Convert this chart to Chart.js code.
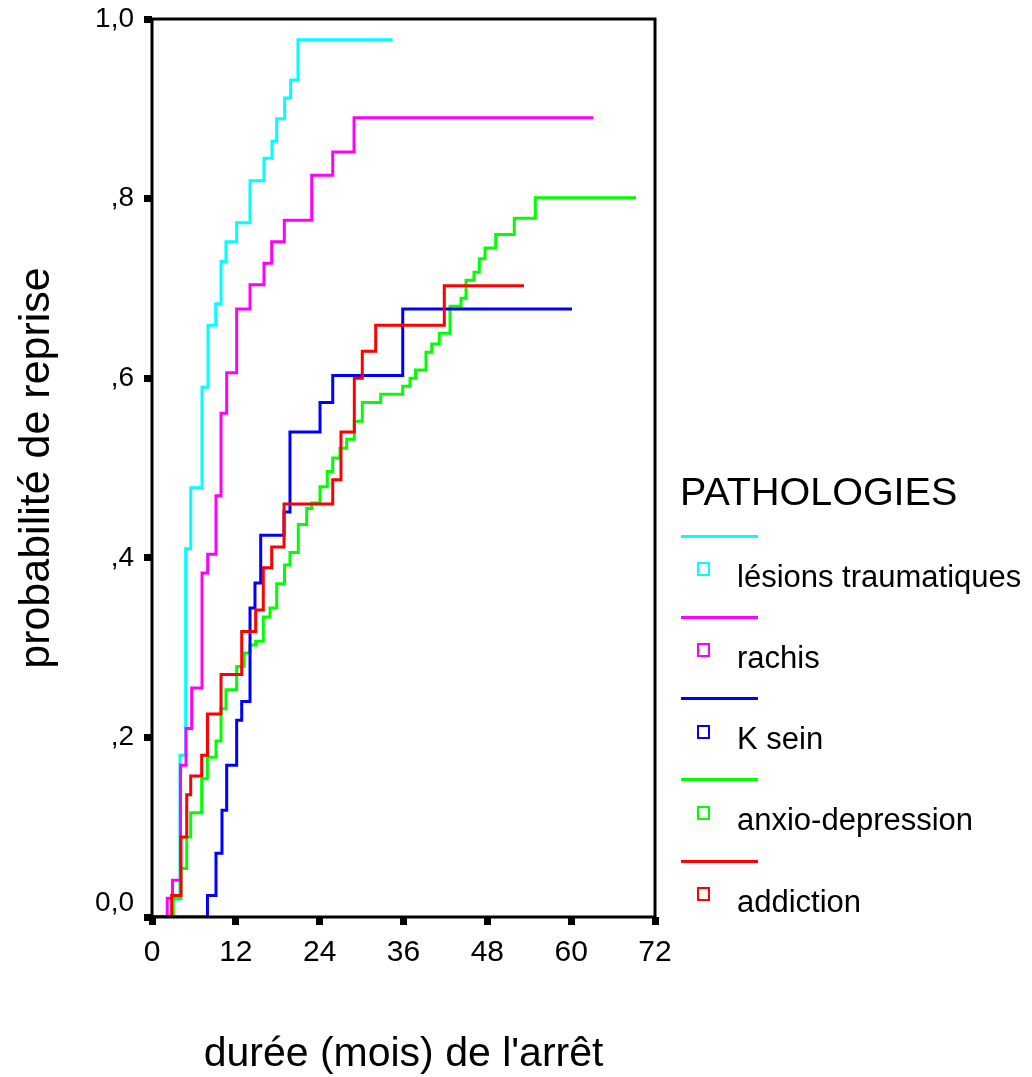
<!DOCTYPE html>
<html>
<head>
<meta charset="utf-8">
<script src="https://cdn.jsdelivr.net/npm/chart.js@4.4.0/dist/chart.umd.min.js"></script>
<style>
  html, body { margin: 0; padding: 0; background: #fff; }
  #wrap { position: relative; width: 1032px; height: 1077px; font-family: "Liberation Sans", Arial, sans-serif; }
  #chart { position: absolute; left: 0; top: 0; }
  .leg-title { position: absolute; left: 680px; top: 472px; font-size: 39.5px; line-height: 39.5px; color: #000; }
  .leg-line { position: absolute; left: 681px; width: 77px; height: 3px; }
  .leg-box { position: absolute; left: 697px; width: 9px; height: 10px; border: 2px solid; background: #fff; }
  .leg-text { position: absolute; left: 737px; font-size: 31px; line-height: 31px; color: #000; white-space: nowrap; }
</style>
</head>
<body>
<div id="wrap">
  <canvas id="chart" width="1032" height="1077"></canvas>
</div>
<script>
// === DONNÉES ===
const groupes = ['lésions traumatiques', 'rachis', 'K sein', 'anxio-depression', 'addiction'];
const couleurs = ['#00ffff', '#ff00ff', '#0000ff', '#00ff00', '#ff0000'];

// durée en mois / probabilité cumulée de reprise
const lesionsT = [0, 2.9, 4.0, 4.82, 5.54, 7.16, 8.02, 9.12, 9.88, 10.59, 12.12, 14.03, 16.03, 17.18, 17.85, 18.99, 19.85, 20.9, 34.45];
const lesionsP = [0, 0.02, 0.18, 0.41, 0.478, 0.59, 0.659, 0.683, 0.73, 0.752, 0.773, 0.82, 0.845, 0.864, 0.889, 0.912, 0.932, 0.977, 0.977];

const rachisT = [0, 2.18, 2.93, 4.08, 4.87, 5.68, 7.16, 7.97, 9.16, 9.88, 10.69, 12.12, 14.03, 16.03, 17.13, 18.94, 22.86, 25.87, 28.92, 63.13];
const rachisP = [0, 0.021, 0.041, 0.169, 0.21, 0.255, 0.383, 0.404, 0.469, 0.561, 0.606, 0.677, 0.704, 0.728, 0.752, 0.776, 0.826, 0.852, 0.89, 0.89];

const seinT = [0, 7.94, 9.16, 10.02, 10.69, 12.12, 12.84, 14.03, 14.74, 15.56, 18.9, 19.75, 24.05, 25.87, 35.89, 60.12];
const seinP = [0, 0.024, 0.071, 0.119, 0.169, 0.219, 0.24, 0.344, 0.372, 0.425, 0.451, 0.54, 0.573, 0.603, 0.677, 0.677];

const anxioT = [0, 3.05, 4.15, 4.97, 5.54, 7.11, 7.92, 9.16, 9.88, 10.59, 12.12, 13.17, 14.03, 14.84, 15.93, 16.89, 17.85, 18.97, 19.75, 20.94,
  22.14, 22.86, 24.05, 25.09, 25.87, 26.91, 27.87, 28.96, 30.1, 32.74, 35.89, 36.93, 37.72, 39.22, 40.04, 41.12, 42.66, 44.23, 44.95, 46.09,
  46.85, 47.67, 49.2, 51.86, 54.87, 69.28];
const anxioP = [0, 0.021, 0.054, 0.089, 0.116, 0.154, 0.178, 0.196, 0.232, 0.253, 0.279, 0.294, 0.303, 0.307, 0.334, 0.344, 0.371, 0.392, 0.406, 0.437,
  0.455, 0.461, 0.479, 0.496, 0.511, 0.522, 0.532, 0.552, 0.573, 0.582, 0.591, 0.6, 0.609, 0.629, 0.638, 0.65, 0.68, 0.689, 0.709, 0.718,
  0.733, 0.745, 0.76, 0.778, 0.801, 0.801];

const addictionT = [0, 2.82, 4.15, 4.97, 5.54, 7.11, 7.94, 9.88, 12.84, 14.84, 15.93, 17.13, 18.9, 25.87, 27.05, 28.96, 30.1, 32.02, 41.84, 53.25];
const addictionP = [0, 0.024, 0.089, 0.136, 0.157, 0.18, 0.226, 0.27, 0.318, 0.342, 0.389, 0.412, 0.46, 0.487, 0.54, 0.6, 0.63, 0.659, 0.703, 0.703];

const xTicks = [0, 12, 24, 36, 48, 60, 72];
const yTicks = [0, 0.2, 0.4, 0.6, 0.8, 1.0];
const yLabels = ['0,0', ',2', ',4', ',6', ',8', '1,0'];

const series = [
  [lesionsT, lesionsP],
  [rachisT, rachisP],
  [seinT, seinP],
  [anxioT, anxioP],
  [addictionT, addictionP]
];
// ordre de dessin : rouge au-dessus, puis bleu, vert, magenta, cyan
const ordres = [4, 3, 1, 2, 0];

const POLICE = '"Liberation Sans", Arial, sans-serif';

// === CADRE ===
const cadre = {
  id: 'cadre',
  afterDraw(chart) {
    const { ctx, chartArea: a } = chart;
    ctx.save();
    ctx.strokeStyle = '#000';
    ctx.lineWidth = 3;
    ctx.strokeRect(a.left, a.top, a.right - a.left, a.bottom - a.top);
    ctx.restore();
  }
};

const ctx = document.getElementById('chart').getContext('2d');
new Chart(ctx, {
  type: 'line',
  data: {
    datasets: series.map(([t, p], i) => ({
      label: groupes[i],
      data: t.map((v, j) => ({ x: v, y: p[j] })),
      borderColor: couleurs[i],
      borderWidth: 3,
      stepped: 'before',
      pointRadius: 0,
      fill: false,
      order: ordres[i]
    }))
  },
  options: {
    responsive: false,
    animation: false,
    devicePixelRatio: 1,
    layout: { padding: { top: 19, right: 377, left: 0, bottom: 0 } },
    plugins: { legend: { display: false }, tooltip: { enabled: false } },
    scales: {
      x: {
        type: 'linear',
        min: 0, max: 72,
        afterFit: s => { s.height = 160; s.paddingLeft = 0; s.paddingRight = 0; },
        afterBuildTicks: s => { s.ticks = xTicks.map(v => ({ value: v })); },
        border: { display: false },
        grid: { drawOnChartArea: false, drawTicks: true, tickLength: 8, tickWidth: 7, tickColor: '#000' },
        ticks: { color: '#000', padding: 10, maxRotation: 0, font: { family: POLICE, size: 30 } },
        title: {
          display: true, text: "durée (mois) de l'arrêt", color: '#000',
          padding: 0, font: { family: POLICE, size: 41, lineHeight: 1.1 }
        }
      },
      y: {
        type: 'linear',
        min: 0, max: 1,
        afterFit: s => { s.width = 152; s.paddingTop = 0; s.paddingBottom = 0; },
        afterBuildTicks: s => { s.ticks = yTicks.map(v => ({ value: v })); },
        border: { display: false },
        grid: { drawOnChartArea: false, drawTicks: true, tickLength: 8, tickWidth: 7, tickColor: '#000' },
        ticks: {
          color: '#000', padding: 10, font: { family: POLICE, size: 28, lineHeight: 1.0 },
          callback: (v, i) => i === 0 ? [yLabels[i], ''] : yLabels[i]
        },
        title: {
          display: true, text: 'probabilité de reprise', color: '#000',
          padding: { top: 11, bottom: 0 }, font: { family: POLICE, size: 43 }
        }
      }
    }
  },
  plugins: [cadre]
});

// === LÉGENDE ===
const wrap = document.getElementById('wrap');
const titre = document.createElement('div');
titre.className = 'leg-title';
titre.textContent = 'PATHOLOGIES';
wrap.appendChild(titre);

groupes.forEach((nom, i) => {
  const pas = 81.25 * i;
  const ligne = document.createElement('div');
  ligne.className = 'leg-line';
  ligne.style.top = (534.5 + pas) + 'px';
  ligne.style.background = couleurs[i];
  wrap.appendChild(ligne);

  const boite = document.createElement('div');
  boite.className = 'leg-box';
  boite.style.top = (562 + pas) + 'px';
  boite.style.borderColor = couleurs[i];
  wrap.appendChild(boite);

  const texte = document.createElement('div');
  texte.className = 'leg-text';
  texte.style.top = (560.5 + pas) + 'px';
  texte.textContent = nom;
  wrap.appendChild(texte);
});
</script>
</body>
</html>
